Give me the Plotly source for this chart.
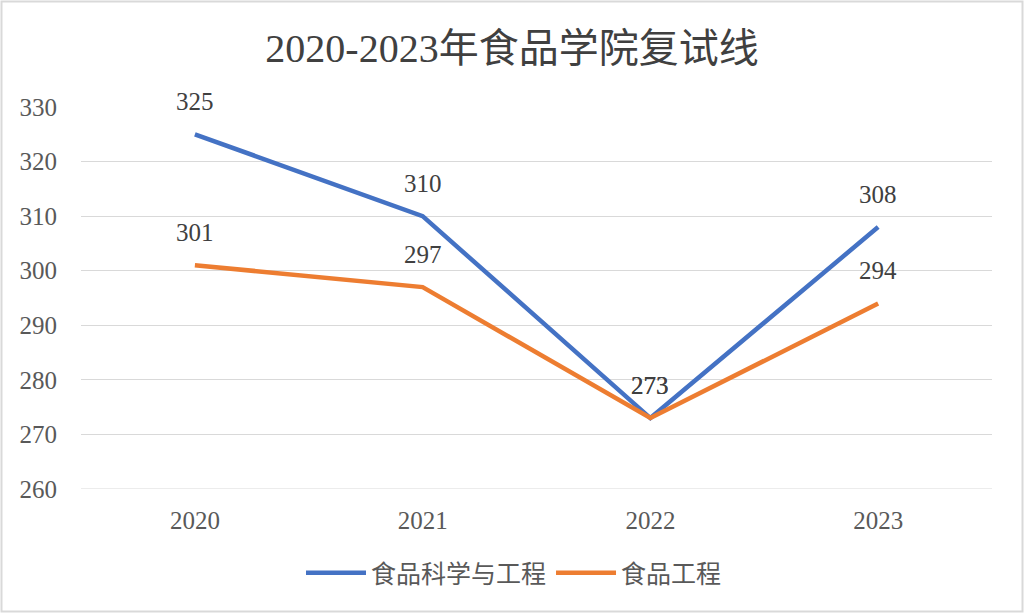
import plotly.graph_objects as go

years = ["2020", "2021", "2022", "2023"]
food_sci = [325, 310, 273, 308]
food_eng = [301, 297, 273, 294]
series_names = ["食品科学与工程", "食品工程"]
colors = ["#4472C4", "#ED7D31"]

serif = "Liberation Serif, Times New Roman, Noto Sans CJK SC, serif"
sans = "Noto Sans CJK SC, sans-serif"

fig = go.Figure()
for name, vals, c in zip(series_names, [food_sci, food_eng], colors):
    fig.add_trace(go.Scatter(x=years, y=vals, mode="lines", name=name,
                             line=dict(color=c, width=4.5)))
    for i, v in enumerate(vals):
        fig.add_annotation(x=i, y=v, xref="x", yref="y", text=str(v), showarrow=False,
                           yshift=33, font=dict(family=serif, size=25, color="#404040"))

L, R, T, B = 81, 32, 107, 124
W, H = 1024, 613
pw, ph = W - L - R, H - T - B
fig.add_shape(type="rect", xref="paper", yref="paper",
              x0=(-L + 1.5) / pw, x1=(pw + R - 1.5) / pw,
              y0=(-B + 1.5) / ph, y1=(ph + T - 1.5) / ph,
              line=dict(color="#D9D9D9", width=2), layer="below")
# bottom gridline (edge gridline is not drawn by plotly)
fig.add_hline(y=260, line=dict(color="#D9D9D9", width=1), layer="below")

fig.update_layout(
    width=W, height=H,
    margin=dict(l=L, r=R, t=T, b=B),
    paper_bgcolor="white", plot_bgcolor="white",
    title=dict(text="2020-2023年食品学院复试线", x=0.5, xref="container", xanchor="center",
               y=1 - 48 / H, yanchor="middle",
               font=dict(family=serif, size=40, color="#404040")),
    xaxis=dict(type="category", range=[-0.5, 3.5], showgrid=False, zeroline=False,
               showline=False, ticks="", ticklabelstandoff=14,
               tickfont=dict(family=serif, size=25, color="#595959")),
    yaxis=dict(range=[260, 330], dtick=10, tick0=260, showgrid=True,
               gridcolor="#D9D9D9", gridwidth=1,
               zeroline=False, showline=False, ticks="", ticklabelstandoff=23,
               tickfont=dict(family=serif, size=25, color="#595959")),
    legend=dict(orientation="h", x=(514 - L) / pw, xanchor="center", y=-(573 - 489) / ph,
                yanchor="middle",
                font=dict(family=sans, size=25, color="#595959"), itemwidth=60,
                traceorder="normal"),
    showlegend=True,
)

fig.write_html("out.html")
